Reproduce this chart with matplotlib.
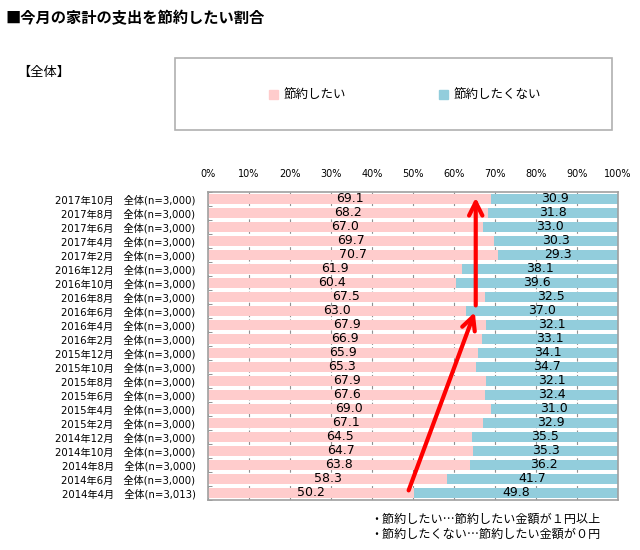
import numpy as np
import matplotlib.pyplot as plt
from matplotlib.patches import Rectangle, Patch

plt.rcParams['font.family'] = ['Noto Sans CJK JP', 'DejaVu Sans']

# data, top row first
months = ['2017年10月', '2017年8月', '2017年6月', '2017年4月', '2017年2月',
          '2016年12月', '2016年10月', '2016年8月', '2016年6月', '2016年4月', '2016年2月',
          '2015年12月', '2015年10月', '2015年8月', '2015年6月', '2015年4月', '2015年2月',
          '2014年12月', '2014年10月', '2014年8月', '2014年6月', '2014年4月']
sample_n = ['3,000'] * 21 + ['3,013']
want_save = [69.1, 68.2, 67.0, 69.7, 70.7,
             61.9, 60.4, 67.5, 63.0, 67.9, 66.9,
             65.9, 65.3, 67.9, 67.6, 69.0, 67.1,
             64.5, 64.7, 63.8, 58.3, 50.2]
no_save = [30.9, 31.8, 33.0, 30.3, 29.3,
           38.1, 39.6, 32.5, 37.0, 32.1, 33.1,
           34.1, 34.7, 32.1, 32.4, 31.0, 32.9,
           35.5, 35.3, 36.2, 41.7, 49.8]

pink = '#FFCCCC'
blue = '#92CDDC'
mixed = ['DejaVu Sans', 'Noto Sans CJK JP']

labels = [m + '　全体(n=' + n + ')' for m, n in zip(months, sample_n)]
y = np.arange(len(months))
a = np.array(want_save)
b = np.array(no_save)

fig = plt.figure(figsize=(6.4, 5.5), dpi=100)
ax = fig.add_axes([208/640, 1 - 500/550, 410/640, 308/550])

ax.barh(y, a, height=0.72, color=pink, zorder=2)
ax.barh(y, b, left=a, height=0.72, color=blue, zorder=2)

for i in range(len(y)):
    ax.text(a[i] / 2, y[i], f'{a[i]:.1f}', ha='center', va='center',
            fontsize=9, family='DejaVu Sans', zorder=3)
    ax.text(a[i] + b[i] / 2, y[i], f'{b[i]:.1f}', ha='center', va='center',
            fontsize=9, family='DejaVu Sans', zorder=3)

ax.set_xlim(0, 100)
ax.set_ylim(len(y) - 0.5, -0.5)
ax.set_xticks(np.arange(0, 101, 10))
ax.set_xticklabels([f'{v}%' for v in range(0, 101, 10)], family='DejaVu Sans', fontsize=7)
ax.xaxis.tick_top()
ax.tick_params(axis='x', length=0, pad=9)
ax.set_yticks(y)
ax.set_yticklabels(labels, fontsize=7.3, family=mixed)
ax.tick_params(axis='y', length=0, pad=9)
ax.set_yticks(np.arange(len(y) + 1) - 0.5, minor=True)
ax.tick_params(axis='y', which='minor', direction='in', length=3, color='#808080')
ax.grid(axis='x', color='#909090', linestyle=(0, (3, 2)), linewidth=0.8, zorder=1)
for s in ax.spines.values():
    s.set_color('#a0a0a0')
    s.set_linewidth(1.2)

# red arrows
ax.annotate('', xy=(65.3, 7.9), xytext=(48.7, 21.0),
            arrowprops=dict(arrowstyle='->', color='red', lw=3, mutation_scale=24), zorder=4)
ax.annotate('', xy=(65.3, -0.3), xytext=(65.3, 7.8),
            arrowprops=dict(arrowstyle='->', color='red', lw=3, mutation_scale=24), zorder=4)

# title and headings
fig.text(5/640, 1 - 18/550, '■今月の家計の支出を節約したい割合', fontsize=11, fontweight='bold', va='center')
fig.text(17/640, 1 - 72/550, '【全体】', fontsize=9.5, va='center')

# legend box
fig.patches.append(Rectangle((175/640, 1 - 130/550), 437/640, 72/550, transform=fig.transFigure,
                             fill=False, edgecolor='#b0b0b0', linewidth=1.2))
handles = [Patch(color=pink, label='節約したい'), Patch(color=blue, label='節約したくない')]
fig.legend(handles=handles, loc='center', bbox_to_anchor=(405/640, 1 - 95/550), ncol=2,
           frameon=False, fontsize=9, handlelength=0.7, handleheight=0.7,
           handletextpad=0.4, columnspacing=7.5)

# notes
fig.text(370/640, 1 - 519/550, '・節約したい…節約したい金額が１円以上', fontsize=8.7, va='center')
fig.text(370/640, 1 - 534/550, '・節約したくない…節約したい金額が０円', fontsize=8.7, va='center')

fig.savefig('out.png', dpi=100)
